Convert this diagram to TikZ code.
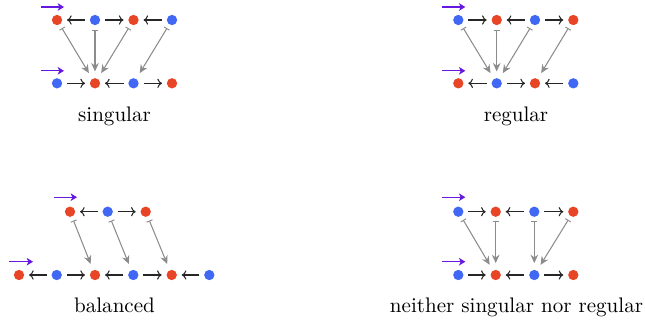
\documentclass[tikz,border=0pt]{standalone}
\usetikzlibrary{arrows.meta,calc}
\definecolor{rd}{RGB}{232,68,38}
\definecolor{bl}{RGB}{64,104,245}
\definecolor{pu}{RGB}{100,24,224}
\definecolor{gr}{RGB}{140,140,140}
\begin{document}
\begin{tikzpicture}[x=0.475pt,y=-0.475pt,
  R/.style={circle,fill=rd,inner sep=0pt,minimum size=4.9pt},
  B/.style={circle,fill=bl,inner sep=0pt,minimum size=4.9pt},
  ar/.style={-{To[length=2.2pt,width=4.4pt]},line width=0.5pt,black!85,shorten <=2.1pt,shorten >=2.1pt},
  ga/.style={{Bar[width=3pt,line width=0.45pt]}-{Stealth[length=4pt,width=3.6pt]},line width=0.5pt,gr,shorten <=1.9pt,shorten >=3pt},
  pa/.style={-{Stealth[length=3pt,width=3.6pt,inset=0.8pt]},line width=0.5pt,pu},
  lab/.style={anchor=base,inner sep=0pt,font=\normalsize}]
\useasboundingbox (0,0) rectangle (645,321);
% ---------- panel 1: singular
\node[R] (p1t1) at (57,20) {};
\node[B] (p1t2) at (95,20) {};
\node[R] (p1t3) at (133.5,20) {};
\node[B] (p1t4) at (172,20) {};
\node[B] (p1b1) at (57,83.3) {};
\node[R] (p1b2) at (95,83.3) {};
\node[B] (p1b3) at (133.5,83.3) {};
\node[R] (p1b4) at (172,83.3) {};
\draw[ar] (p1t2) -- (p1t1);
\draw[ar] (p1t2) -- (p1t3);
\draw[ar] (p1t4) -- (p1t3);
\draw[ar] (p1b1) -- (p1b2);
\draw[ar] (p1b3) -- (p1b2);
\draw[ar] (p1b3) -- (p1b4);
\draw[ga] (p1t1) -- (p1b2);
\draw[ga] (p1t2) -- (p1b2);
\draw[ga] (p1t3) -- (p1b2);
\draw[ga] (p1t4) -- (p1b3);
\draw[pa] ($(p1t1)+(-16,-13)$) -- ++(23,0);
\draw[pa] ($(p1b1)+(-16,-12.5)$) -- ++(23,0);
\node[lab] (l1) at (114.5,121.7) {singular};
% ---------- panel 2: regular
\node[B] (p2t1) at (458.3,20) {};
\node[R] (p2t2) at (496.7,20) {};
\node[B] (p2t3) at (535,20) {};
\node[R] (p2t4) at (573.3,20) {};
\node[R] (p2b1) at (458.3,83.3) {};
\node[B] (p2b2) at (496.7,83.3) {};
\node[R] (p2b3) at (535,83.3) {};
\node[B] (p2b4) at (573.3,83.3) {};
\draw[ar] (p2t1) -- (p2t2);
\draw[ar] (p2t3) -- (p2t2);
\draw[ar] (p2t3) -- (p2t4);
\draw[ar] (p2b2) -- (p2b1);
\draw[ar] (p2b2) -- (p2b3);
\draw[ar] (p2b4) -- (p2b3);
\draw[ga] (p2t1) -- (p2b2);
\draw[ga] (p2t2) -- (p2b2);
\draw[ga] (p2t3) -- (p2b2);
\draw[ga] (p2t4) -- (p2b3);
\draw[pa] ($(p2t1)+(-16,-13)$) -- ++(23,0);
\draw[pa] ($(p2b1)+(-16,-12.5)$) -- ++(23,0);
\node[lab] (l2) at (516,121.7) {regular};
% ---------- panel 3: balanced
\node[R] (p3t1) at (70,211.7) {};
\node[B] (p3t2) at (107.7,211.7) {};
\node[R] (p3t3) at (145.7,211.7) {};
\node[R] (p3b1) at (19,275) {};
\node[B] (p3b2) at (56.7,275) {};
\node[R] (p3b3) at (95,275) {};
\node[B] (p3b4) at (133.3,275) {};
\node[R] (p3b5) at (171.7,275) {};
\node[B] (p3b6) at (209.3,275) {};
\draw[ar] (p3t2) -- (p3t1);
\draw[ar] (p3t2) -- (p3t3);
\draw[ar] (p3b2) -- (p3b1);
\draw[ar] (p3b2) -- (p3b3);
\draw[ar] (p3b4) -- (p3b3);
\draw[ar] (p3b4) -- (p3b5);
\draw[ar] (p3b6) -- (p3b5);
\draw[ga] (p3t1) -- (p3b3);
\draw[ga] (p3t2) -- (p3b4);
\draw[ga] (p3t3) -- (p3b5);
\draw[pa] ($(p3t1)+(-16,-14.5)$) -- ++(23,0);
\draw[pa] ($(p3b1)+(-10,-13.3)$) -- ++(24,0);
\node[lab] (l3) at (114.5,312) {balanced};
% ---------- panel 4: neither
\node[B] (p4t1) at (458.3,211.7) {};
\node[R] (p4t2) at (495.7,211.7) {};
\node[B] (p4t3) at (534.3,211.7) {};
\node[R] (p4t4) at (573.3,211.7) {};
\node[B] (p4b1) at (458.3,275) {};
\node[R] (p4b2) at (495.7,275) {};
\node[B] (p4b3) at (534.3,275) {};
\node[R] (p4b4) at (573.3,275) {};
\draw[ar] (p4t1) -- (p4t2);
\draw[ar] (p4t3) -- (p4t2);
\draw[ar] (p4t3) -- (p4t4);
\draw[ar] (p4b1) -- (p4b2);
\draw[ar] (p4b3) -- (p4b2);
\draw[ar] (p4b3) -- (p4b4);
\draw[ga] (p4t1) -- (p4b2);
\draw[ga] (p4t2) -- (p4b2);
\draw[ga] (p4t3) -- (p4b3);
\draw[ga] (p4t4) -- (p4b3);
\draw[pa] ($(p4t1)+(-16,-14.5)$) -- ++(23,0);
\draw[pa] ($(p4b1)+(-16,-13.3)$) -- ++(23,0);
\node[lab] (l4) at (516.5,312) {neither singular nor regular};
\end{tikzpicture}
\end{document}
